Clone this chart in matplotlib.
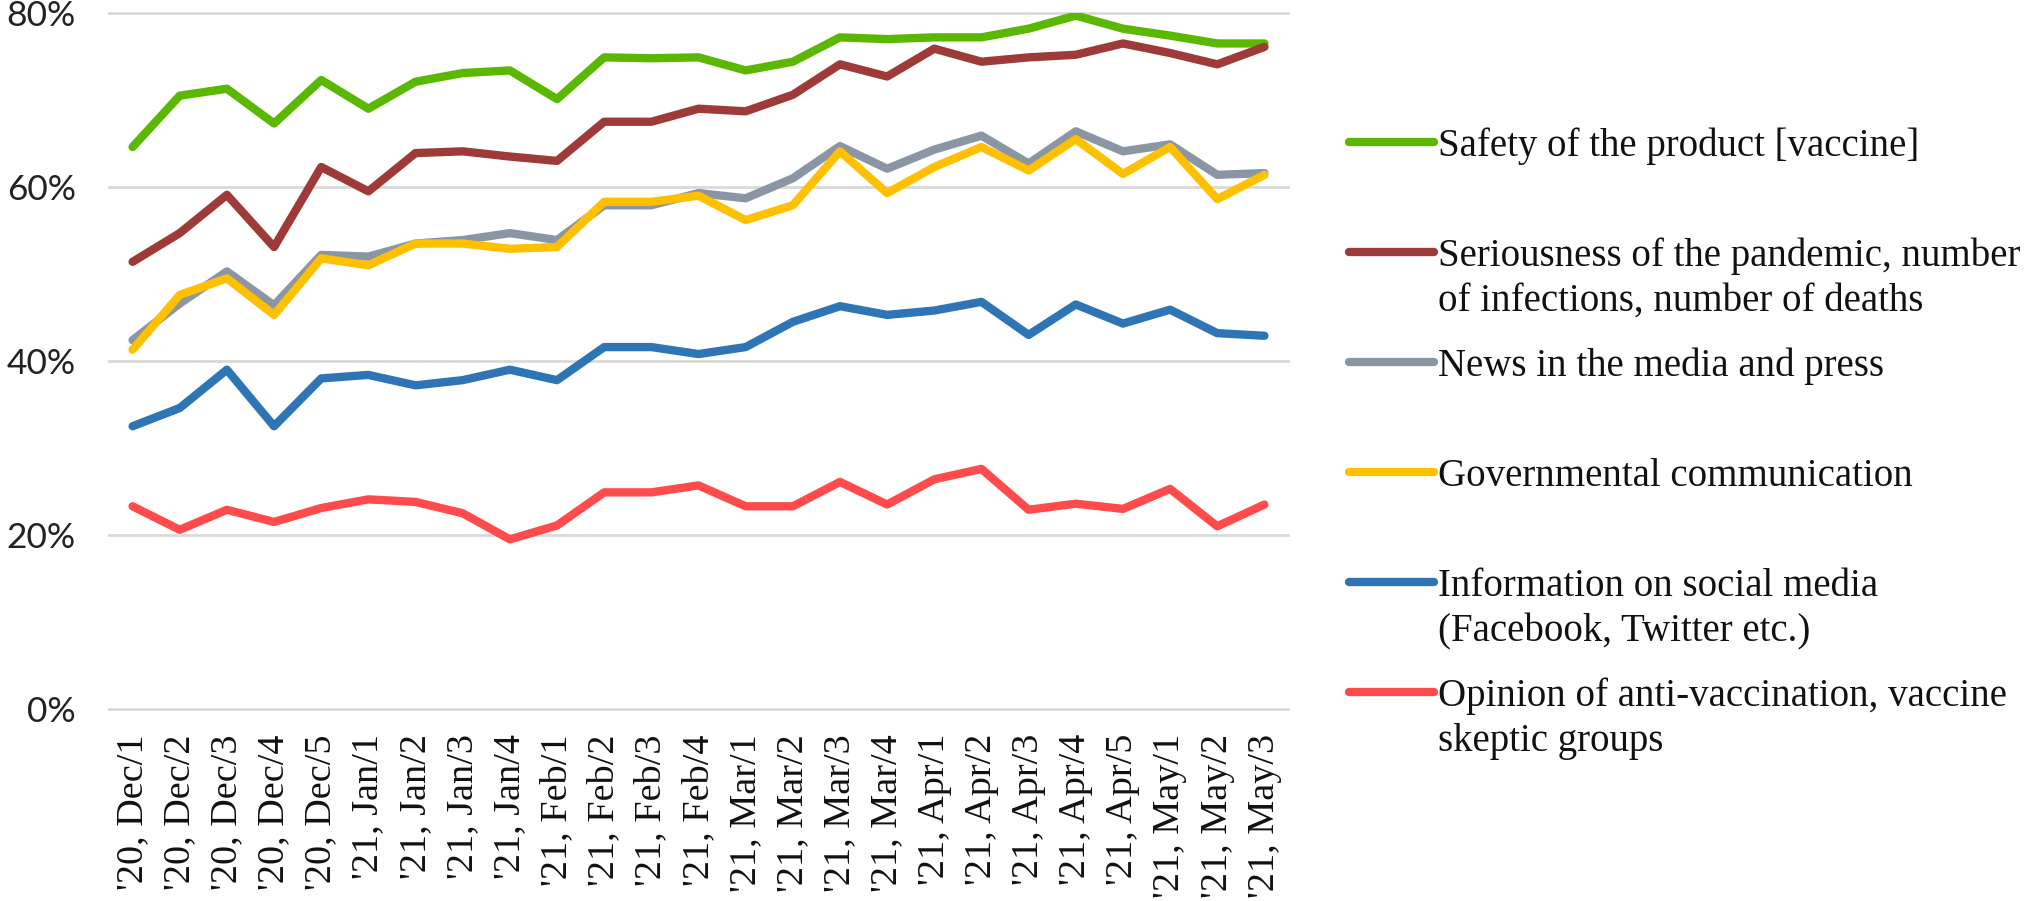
import matplotlib
matplotlib.use("Agg")
import matplotlib.pyplot as plt
from matplotlib.lines import Line2D

# ---------------- data ----------------
weeks = ["'20, Dec/1", "'20, Dec/2", "'20, Dec/3", "'20, Dec/4", "'20, Dec/5",
         "'21, Jan/1", "'21, Jan/2", "'21, Jan/3", "'21, Jan/4",
         "'21, Feb/1", "'21, Feb/2", "'21, Feb/3", "'21, Feb/4",
         "'21, Mar/1", "'21, Mar/2", "'21, Mar/3", "'21, Mar/4",
         "'21, Apr/1", "'21, Apr/2", "'21, Apr/3", "'21, Apr/4", "'21, Apr/5",
         "'21, May/1", "'21, May/2", "'21, May/3"]

safety = [64.6, 70.5, 71.3, 67.3, 72.3, 69.0, 72.1, 73.1, 73.4, 70.1, 74.9, 74.8, 74.9,
          73.4, 74.4, 77.2, 77.0, 77.2, 77.2, 78.2, 79.7, 78.2, 77.4, 76.5, 76.5]
seriousness = [51.4, 54.7, 59.1, 53.1, 62.3, 59.5, 63.9, 64.1, 63.5, 63.0, 67.5, 67.5, 69.0,
               68.7, 70.6, 74.1, 72.7, 75.9, 74.4, 74.9, 75.2, 76.5, 75.4, 74.1, 76.1]
news = [42.4, 46.6, 50.3, 46.4, 52.2, 52.0, 53.5, 53.9, 54.7, 53.9, 57.9, 57.9, 59.3,
        58.7, 61.0, 64.7, 62.1, 64.3, 65.9, 62.7, 66.4, 64.1, 64.9, 61.4, 61.6]
government = [41.3, 47.6, 49.5, 45.3, 51.8, 51.0, 53.5, 53.5, 52.9, 53.1, 58.3, 58.3, 59.0,
              56.2, 57.9, 64.1, 59.3, 62.3, 64.6, 61.9, 65.5, 61.5, 64.6, 58.6, 61.4]
social = [32.5, 34.6, 39.0, 32.5, 38.0, 38.4, 37.2, 37.8, 39.0, 37.8, 41.6, 41.6, 40.8,
          41.6, 44.5, 46.3, 45.3, 45.8, 46.8, 43.0, 46.5, 44.3, 45.9, 43.2, 42.9]
antivax = [23.3, 20.6, 22.9, 21.5, 23.1, 24.1, 23.8, 22.5, 19.5, 21.1, 24.9, 24.9, 25.7,
           23.3, 23.3, 26.1, 23.5, 26.4, 27.6, 22.9, 23.6, 23.0, 25.3, 21.0, 23.5]

series_labels = ["Safety of the product [vaccine]",
                 "Seriousness of the pandemic, number\nof infections, number of deaths",
                 "News in the media and press",
                 "Governmental communication",
                 "Information on social media\n(Facebook, Twitter etc.)",
                 "Opinion of anti-vaccination, vaccine\nskeptic groups"]
series_values = [safety, seriousness, news, government, social, antivax]
series_colors = ["#5BB800", "#9E3A38", "#8A96A4", "#FFC000", "#2E75B6", "#FF4B4B"]

y_ticks = [0, 20, 40, 60, 80]
y_ticklabels = ["0%", "20%", "40%", "60%", "80%"]

# ---------------- layout ----------------
W, H = 2030, 901
fig = plt.figure(figsize=(W / 100, H / 100), dpi=100)
fig.patch.set_facecolor("white")
ax = fig.add_axes([109 / W, 1 - 709 / H, (1288 - 109) / W, (709 - 13) / H])

x = list(range(len(weeks)))
for vals, col in zip(series_values, series_colors):
    ax.plot(x, vals, color=col, lw=6, solid_capstyle="round",
            solid_joinstyle="round", zorder=3)

ax.set_xlim(-0.5, len(weeks) - 0.5)
ax.set_ylim(0, 80)
ax.set_yticks(y_ticks)
ax.set_yticklabels(y_ticklabels, fontfamily="Lato", fontsize=25.5, color="#222222")
ax.set_xticks(x)
ax.set_xticklabels(weeks, rotation=90, fontfamily="Liberation Serif",
                   fontsize=27.5, color="#111111")
ax.yaxis.grid(True, color="#d9d9d9", lw=2)
ax.set_axisbelow(True)
for gl in ax.get_ygridlines():
    gl.set_clip_on(False)
for s in ax.spines.values():
    s.set_visible(False)
ax.tick_params(axis="both", length=0)
ax.tick_params(axis="y", pad=24)
ax.tick_params(axis="x", pad=18)

# ---------------- legend (manual, Excel-like) ----------------
leg_y = [142, 252, 362, 472, 582, 692]
for lab, col, yy in zip(series_labels, series_colors, leg_y):
    fy = 1 - yy / H
    fig.add_artist(Line2D([1349 / W, 1434 / W], [fy, fy], color=col, lw=6,
                          solid_capstyle="round", transform=fig.transFigure))
    for k, line in enumerate(lab.split("\n")):
        fig.text(1438 / W, 1 - (yy + 45 * k) / H, line, fontfamily="Liberation Serif",
                 fontsize=28, va="center_baseline", ha="left", color="#111111")

fig.savefig("out.png", dpi=100, facecolor="white")
